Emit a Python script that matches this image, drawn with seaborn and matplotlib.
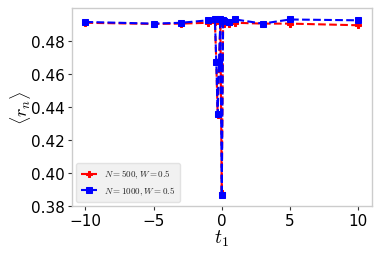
import numpy as np
import pandas as pd
import matplotlib
matplotlib.use('Agg')
import matplotlib.pyplot as plt
import seaborn as sns

# data
t1 = [-10, -5, -3, -1, -0.5, -0.4, -0.3, -0.2, -0.1, 0, 0.1, 0.2, 0.5, 1, 3, 5, 10]
r_500 = [0.4910, 0.4903, 0.4905, 0.4910, 0.4915, 0.4670, 0.4350, 0.4670, 0.4910,
         0.3880, 0.4910, 0.4905, 0.4905, 0.4910, 0.4905, 0.4905, 0.4895]
r_1000 = [0.4915, 0.4905, 0.4910, 0.4925, 0.4930, 0.4670, 0.4360, 0.4670, 0.4935,
          0.3865, 0.4925, 0.4920, 0.4915, 0.4930, 0.4905, 0.4930, 0.4925]
labels = [r'$N=500, W=0.5$', r'$N=1000, W=0.5$']

sns.set_style('ticks')
plt.rcParams['mathtext.fontset'] = 'cm'
plt.rcParams['font.family'] = ['DejaVu Sans']

df = pd.DataFrame({'t1': t1, 'N500': r_500, 'N1000': r_1000})

fig = plt.figure(figsize=(3.82, 2.55), dpi=100)
ax = fig.add_axes([0.188, 0.188, 0.785, 0.777])

sns.lineplot(data=df, x='t1', y='N500', ax=ax, color='red', linestyle='--',
             marker='P', markersize=5, markeredgecolor='red', linewidth=1.5, label=labels[0])
sns.lineplot(data=df, x='t1', y='N1000', ax=ax, color='blue', linestyle='--',
             marker='s', markersize=4.5, markeredgecolor='blue', linewidth=1.5, label=labels[1])

ax.set_xlim(-11, 11)
ax.set_ylim(0.38, 0.50)
ax.set_xticks([-10, -5, 0, 5, 10])
ax.set_yticks([0.38, 0.40, 0.42, 0.44, 0.46, 0.48])
ax.tick_params(labelsize=11, length=3, width=0.8, color='#333333', labelcolor='black', pad=2)
for s in ax.spines.values():
    s.set_color('#cccccc')
    s.set_linewidth(1.0)

ax.set_xlabel(r'$t_1$', fontsize=14, labelpad=0, color='black')
ax.set_ylabel(r'$\langle r_n \rangle$', fontsize=13, color='black')
ax.yaxis.set_label_coords(-0.128, 0.5)

leg = ax.legend(loc='lower left', fontsize=6.5, frameon=True, facecolor='#eeeeee',
                edgecolor='#dddddd', borderpad=0.5, handlelength=1.8, labelspacing=0.45)

fig.savefig('out.png', dpi=100)
